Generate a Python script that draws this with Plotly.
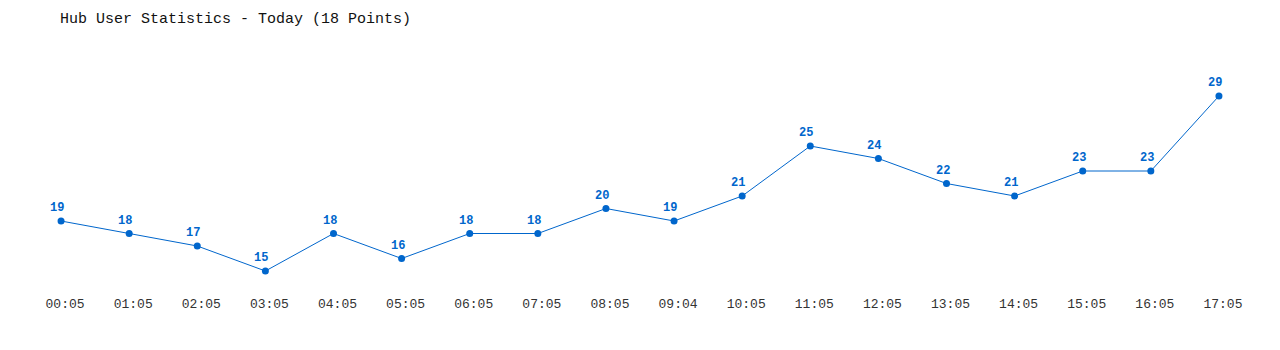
import plotly.graph_objects as go

times = ["00:05", "01:05", "02:05", "03:05", "04:05", "05:05", "06:05", "07:05", "08:05",
         "09:04", "10:05", "11:05", "12:05", "13:05", "14:05", "15:05", "16:05", "17:05"]
users = [19, 18, 17, 15, 18, 16, 18, 18, 20, 19, 21, 25, 24, 22, 21, 23, 23, 29]

MONO = "Liberation Mono, DejaVu Sans Mono, monospace"

fig = go.Figure()
fig.add_trace(go.Scatter(
    x=times, y=users, mode="lines+markers",
    line=dict(color="#0066cc", width=1),
    marker=dict(color="#0066cc", size=7),
    cliponaxis=False,
    hoverinfo="x+y",
))

for t, v in zip(times, users):
    fig.add_annotation(x=t, y=v, text=f"<b>{v}</b>", showarrow=False,
                       xanchor="center", yanchor="middle", xshift=-4, yshift=13,
                       font=dict(family=MONO, size=12, color="#0066cc"))

fig.update_layout(
    width=1280, height=350,
    margin=dict(l=27, r=27, t=46, b=54),
    paper_bgcolor="white", plot_bgcolor="white",
    showlegend=False,
    title=dict(text="Hub User Statistics - Today (18 Points)", x=60/1280, xanchor="left",
               xref="container", y=1 - 18/350, yref="container", yanchor="middle",
               font=dict(family=MONO, size=15, color="#111")),
    font=dict(family=MONO, size=13, color="#333"),
)
fig.update_xaxes(type="category", range=[-0.5, 17.5], showgrid=False, zeroline=False,
                 showline=False, ticks="", tickfont=dict(family=MONO, size=13, color="#333"),
                 ticklabelshift=4, ticklabelstandoff=-2)
fig.update_yaxes(range=[13, 33], visible=False, showgrid=False, zeroline=False)

fig.write_html("out.html")
